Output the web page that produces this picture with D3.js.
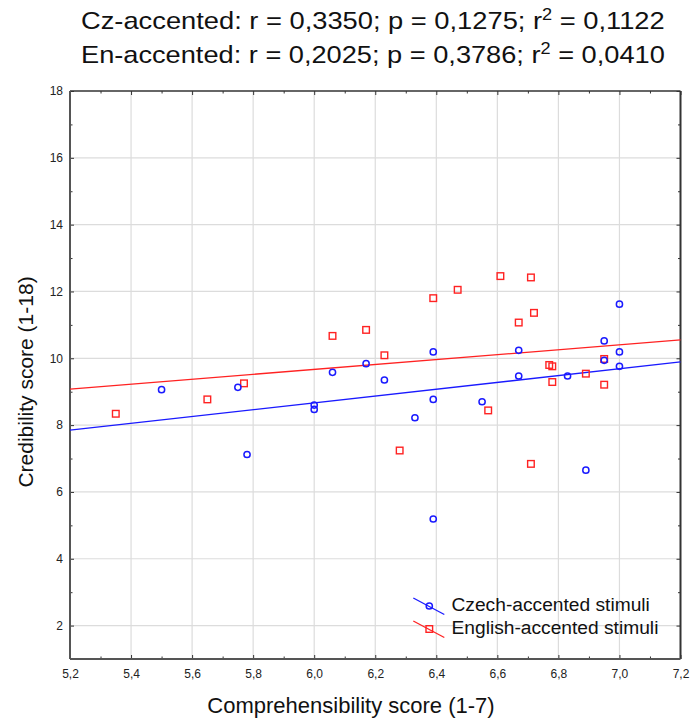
<!DOCTYPE html>
<html>
<head>
<meta charset="utf-8">
<script src="https://cdn.jsdelivr.net/npm/d3@7"></script>
<style>
  body { margin: 0; background: #fff; }
  svg { font-family: "Liberation Sans", Arial, sans-serif; }
</style>
</head>
<body>
<svg id="chart" width="694" height="722"></svg>
<script>
// data
var czX = [5.50, 5.75, 5.78, 6.00, 6.00, 6.06, 6.17, 6.23, 6.33, 6.39, 6.39, 6.39, 6.55, 6.67, 6.67, 6.83, 6.89, 6.95, 6.95, 7.00, 7.00, 7.00]
var czY = [9.06, 9.13, 7.12, 8.60, 8.47, 9.58, 9.84, 9.35, 8.22, 10.19, 8.77, 5.19, 8.70, 10.24, 9.47, 9.47, 6.65, 10.52, 9.94, 11.62, 10.19, 9.76]

var enX = [5.35, 5.65, 5.77, 6.06, 6.17, 6.23, 6.28, 6.39, 6.47, 6.57, 6.61, 6.67, 6.71, 6.72, 6.77, 6.78, 6.78, 6.89, 6.71, 6.95, 6.95]
var enY = [8.34, 8.77, 9.25, 10.67, 10.85, 10.09, 7.24, 11.80, 12.05, 8.44, 12.46, 11.07, 12.42, 11.36, 9.80, 9.76, 9.29, 9.54, 6.84, 9.98, 9.21]

// fitted lines, end points at x = 5.2 and 7.2
var czLine = [[5.2, 7.85], [7.2, 9.89]]
var enLine = [[5.2, 9.08], [7.2, 10.55]]

var xTicks = [5.2, 5.4, 5.6, 5.8, 6.0, 6.2, 6.4, 6.6, 6.8, 7.0, 7.2]
var yTicks = [2, 4, 6, 8, 10, 12, 14, 16, 18]

var titleLines = [
  ['Cz-accented: r = 0,3350; p = 0,1275; r', ' = 0,1122'],
  ['En-accented: r = 0,2025; p = 0,3786; r', ' = 0,0410']
]
var legendNames = ['Czech-accented stimuli', 'English-accented stimuli']

var blue = '#1a1aff', red = '#ff2222'

var svg = d3.select('#chart')
var pLeft = 70, pRight = 680.5, pTop = 91, pBottom = 659

var x = d3.scaleLinear().domain([5.2, 7.2]).range([pLeft, pRight])
var y = d3.scaleLinear().domain([1, 18]).range([pBottom, pTop])

function comma (d) { return d.toFixed(1).replace('.', ',') }

// title, stretched to the width it has in the original
var title = svg.append('g').attr('font-size', 24).attr('fill', '#111')
titleLines.forEach(function (t, i) {
  var txt = title.append('text').attr('y', 29.5 + i * 34)
  txt.append('tspan').text(t[0])
  txt.append('tspan').attr('font-size', 16).attr('dy', -9.5).text('2')
  txt.append('tspan').attr('dy', 9.5).text(t[1])
  var w = txt.node().getComputedTextLength()
  txt.attr('transform', 'translate(81,0) scale(' + (584 / w) + ',1)')
})

// grid
svg.append('g').selectAll('line').data(xTicks.slice(1, -1)).enter().append('line')
  .attr('x1', function (d) { return x(d) }).attr('x2', function (d) { return x(d) })
  .attr('y1', pTop).attr('y2', pBottom)
  .attr('stroke', '#dcdcdc').attr('stroke-width', 1.2)
svg.append('g').selectAll('line').data(yTicks.slice(0, -1)).enter().append('line')
  .attr('y1', function (d) { return y(d) }).attr('y2', function (d) { return y(d) })
  .attr('x1', pLeft).attr('x2', pRight)
  .attr('stroke', '#dcdcdc').attr('stroke-width', 1.2)

// minor ticks halfway between majors
var xMinor = d3.range(5.3, 7.2, 0.2)
var yMinor = d3.range(3, 18, 2)

function styleAxis (g) {
  g.select('.domain').remove()
  g.selectAll('.tick line').attr('stroke', '#333')
  g.selectAll('.tick text').attr('fill', '#222').attr('font-size', 12)
}

svg.append('g').attr('transform', 'translate(0,' + pBottom + ')')
  .call(d3.axisBottom(x).tickValues(xTicks).tickFormat(comma).tickSize(-4).tickPadding(10))
  .call(styleAxis)
svg.append('g').attr('transform', 'translate(0,' + pBottom + ')')
  .call(d3.axisBottom(x).tickValues(xMinor).tickFormat('').tickSize(-2.5))
  .call(styleAxis)
svg.append('g').attr('transform', 'translate(0,' + pTop + ')')
  .call(d3.axisTop(x).tickValues(xTicks).tickFormat('').tickSize(-4))
  .call(styleAxis)
svg.append('g').attr('transform', 'translate(0,' + pTop + ')')
  .call(d3.axisTop(x).tickValues(xMinor).tickFormat('').tickSize(-2.5))
  .call(styleAxis)

svg.append('g').attr('transform', 'translate(' + pLeft + ',0)')
  .call(d3.axisLeft(y).tickValues(yTicks).tickSize(-4).tickPadding(7))
  .call(styleAxis)
svg.append('g').attr('transform', 'translate(' + pLeft + ',0)')
  .call(d3.axisLeft(y).tickValues(yMinor).tickFormat('').tickSize(-2.5))
  .call(styleAxis)
svg.append('g').attr('transform', 'translate(' + pRight + ',0)')
  .call(d3.axisRight(y).tickValues(yTicks).tickFormat('').tickSize(-4))
  .call(styleAxis)
svg.append('g').attr('transform', 'translate(' + pRight + ',0)')
  .call(d3.axisRight(y).tickValues(yMinor).tickFormat('').tickSize(-2.5))
  .call(styleAxis)

// frame
svg.append('line').attr('x1', pLeft).attr('x2', pRight).attr('y1', pTop).attr('y2', pTop)
  .attr('stroke', '#333').attr('stroke-width', 1.5)
svg.append('line').attr('x1', pRight).attr('x2', pRight).attr('y1', pTop).attr('y2', pBottom)
  .attr('stroke', '#333').attr('stroke-width', 2)
svg.append('line').attr('x1', pLeft).attr('x2', pLeft).attr('y1', pTop).attr('y2', pBottom)
  .attr('stroke', '#555').attr('stroke-width', 2)
svg.append('line').attr('x1', pLeft).attr('x2', pRight).attr('y1', pBottom).attr('y2', pBottom)
  .attr('stroke', '#555').attr('stroke-width', 2)

// fit lines
var line = d3.line().x(function (d) { return x(d[0]) }).y(function (d) { return y(d[1]) })
svg.append('path').attr('d', line(czLine)).attr('fill', 'none').attr('stroke', blue).attr('stroke-width', 1.3)
svg.append('path').attr('d', line(enLine)).attr('fill', 'none').attr('stroke', red).attr('stroke-width', 1.3)

// points
var en = enX.map(function (v, i) { return [v, enY[i]] })
var cz = czX.map(function (v, i) { return [v, czY[i]] })

svg.append('g').selectAll('rect').data(en).enter().append('rect')
  .attr('x', function (d) { return x(d[0]) - 3.3 }).attr('y', function (d) { return y(d[1]) - 3.3 })
  .attr('width', 6.6).attr('height', 6.6)
  .attr('fill', 'none').attr('stroke', red).attr('stroke-width', 1.4)
svg.append('g').selectAll('circle').data(cz).enter().append('circle')
  .attr('cx', function (d) { return x(d[0]) }).attr('cy', function (d) { return y(d[1]) })
  .attr('r', 3.1)
  .attr('fill', 'none').attr('stroke', blue).attr('stroke-width', 1.5)

// legend
var legend = svg.append('g').attr('font-size', 19.2).attr('fill', '#111')
legendNames.forEach(function (name, i) {
  var cy = 606 + i * 23, cx = 429.3
  var col = i == 0 ? blue : red
  legend.append('line').attr('x1', cx - 16).attr('y1', cy - 8).attr('x2', cx + 15).attr('y2', cy + 8.5)
    .attr('stroke', col).attr('stroke-width', 1.3)
  if (i == 0) {
    legend.append('circle').attr('cx', cx).attr('cy', cy).attr('r', 3.1)
      .attr('fill', 'none').attr('stroke', col).attr('stroke-width', 1.5)
  } else {
    legend.append('rect').attr('x', cx - 3.3).attr('y', cy - 3.3).attr('width', 6.6).attr('height', 6.6)
      .attr('fill', 'none').attr('stroke', col).attr('stroke-width', 1.4)
  }
  legend.append('text').attr('x', 451.5).attr('y', cy + 5).text(name)
})

// axis titles
svg.append('text').attr('x', 351).attr('y', 713).attr('text-anchor', 'middle')
  .attr('font-size', 22).attr('fill', '#111').text('Comprehensibility score (1-7)')
svg.append('text').attr('transform', 'translate(33,382) rotate(-90)').attr('text-anchor', 'middle')
  .attr('font-size', 21).attr('fill', '#111').text('Credibility score (1-18)')
</script>
</body>
</html>
